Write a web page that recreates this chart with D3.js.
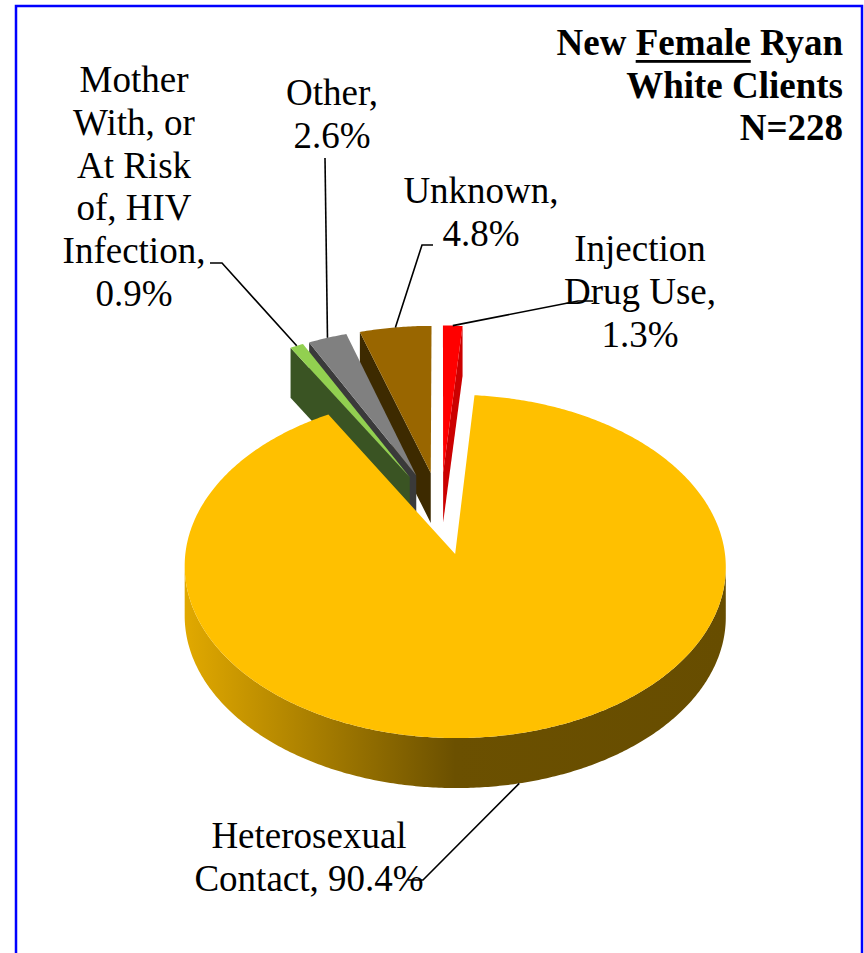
<html lang='en'>
  <head>
    <meta charset='UTF-8' />
    <script src='https://d3js.org/d3.v7.min.js'></script>
    <style>
      body { margin: 0; background: #ffffff; }
      .label {
        font-family: 'Liberation Serif', 'Times New Roman', serif;
        font-size: 37px;
        fill: black;
        text-anchor: middle;
      }
      .title {
        font-family: 'Liberation Serif', 'Times New Roman', serif;
        font-size: 37px;
        font-weight: bold;
        fill: black;
        text-anchor: end;
      }
      .leader { fill: none; stroke: black; stroke-width: 1.6; }
    </style>
    <title>New Female Ryan White Clients</title>
  </head>
  <body>
  <div id='chart'></div>
  <script>

  //data, in pie order clockwise from 12 o'clock
  const categories = [
    "Injection Drug Use",
    "Heterosexual Contact",
    "Mother With, or At Risk of, HIV Infection",
    "Other",
    "Unknown",
  ];
  const percents = [1.3, 90.4, 0.9, 2.6, 4.8];
  const titleLines = ["New Female Ryan", "White Clients", "N=228"];
  const underlinedWord = "Female";

  //colours
  const topColors = ["#FF0000", "#FFC000", "#92D050", "#808080", "#996600"];
  const wallColors = ["#CC0000", "#6B5000", "#3A5423", "#3A3A3A", "#3D2A00"];

  //label layout
  const labelX = [640, 309, 134, 332, 481];
  const labelY = [261, 848, 92, 105, 203];
  const wrapWidth = [160, 240, 150, 150, 160];
  const leaderElbow = [[578, 301], [423, 880], [222, 263], [325, 158], [422, 245]];
  const leaderEnd = [[593, 301], [408, 880], [210, 263], [325, 158], [433, 245]];

  //pie geometry
  const width = 864;
  const height = 953;
  const cx = 440.5, cy = 513, R = 265;
  const tilt = 0.625;    // vertical squash of the disc
  const persp = 0.075;   // far side smaller than near side
  const depth = 50;      // thickness of the pie on screen
  const explode = 66;

  const svg = d3.select("#chart")
    .append("svg")
    .attr("width", width)
    .attr("height", height);

  const defs = svg.append("defs");

  //blue frame
  svg.append("rect")
    .attr("x", 16).attr("y", 6)
    .attr("width", 846).attr("height", 1000)
    .attr("fill", "none")
    .attr("stroke", "#0000FF")
    .attr("stroke-width", 2.5);

  function project(u, v, down = 0) {
    const g = 1 + persp * v / R;
    return [cx + u * g, cy + v * tilt * g + down];
  }

  const slices = d3.pie().sort(null).value((d) => d)(percents).map((p, i) => {
    const b = (p.startAngle + p.endAngle) / 2;
    return {
      i,
      a0: p.startAngle,
      a1: p.endAngle,
      b,
      u0: explode * Math.sin(b),
      v0: -explode * Math.cos(b),
    };
  });

  function rim(s, t, down = 0) {
    return project(s.u0 + R * Math.sin(t), s.v0 - R * Math.cos(t), down);
  }

  function arcPoints(s, t0, t1, down = 0) {
    const n = Math.max(2, Math.ceil(Math.abs(t1 - t0) / 0.01));
    return d3.range(n + 1).map((k) => rim(s, t0 + (t1 - t0) * k / n, down));
  }

  const line = d3.line();
  const gPie = svg.append("g");

  //draw far slices first
  slices.slice().sort((a, b) => a.v0 - b.v0).forEach((s) => {
    const g = gPie.append("g");
    const apex = project(s.u0, s.v0);
    const apexLow = project(s.u0, s.v0, depth);

    //radial walls facing the viewer
    if (Math.sin(s.a0) < -1e-6) {
      g.append("path")
        .attr("d", line([apex, rim(s, s.a0), rim(s, s.a0, depth), apexLow]) + "Z")
        .attr("fill", wallColors[s.i]);
    }
    if (Math.sin(s.a1) > 1e-6) {
      g.append("path")
        .attr("d", line([apex, rim(s, s.a1), rim(s, s.a1, depth), apexLow]) + "Z")
        .attr("fill", wallColors[s.i]);
    }

    //outer curved side, between the silhouette points
    const samples = arcPoints(s, s.a0, s.a1);
    const ts = samples.map((_, k) => s.a0 + (s.a1 - s.a0) * k / (samples.length - 1));
    let tR = null, tL = null, xR = -Infinity, xL = Infinity;
    samples.forEach((p, k) => {
      const t = ts[k];
      if (Math.cos(t) > 0.3) return;
      if (p[0] > xR) { xR = p[0]; tR = t; }
      if (p[0] < xL) { xL = p[0]; tL = t; }
    });
    if (tR !== null && tL !== null && tL > tR) {
      const gradId = "side" + s.i;
      const grad = defs.append("linearGradient")
        .attr("id", gradId)
        .attr("gradientUnits", "userSpaceOnUse")
        .attr("x1", xL).attr("x2", xR).attr("y1", 0).attr("y2", 0);
      const c = d3.color(topColors[s.i]);
      grad.append("stop").attr("offset", 0).attr("stop-color", c.darker(0.35));
      grad.append("stop").attr("offset", 0.5).attr("stop-color", wallColors[s.i]);
      grad.append("stop").attr("offset", 1).attr("stop-color", d3.color(wallColors[s.i]).darker(0.1));
      const top = arcPoints(s, tR, tL);
      const bottom = arcPoints(s, tR, tL, depth).reverse();
      g.append("path")
        .attr("d", line(top.concat(bottom)) + "Z")
        .attr("fill", `url(#${gradId})`);
    }

    //top face
    g.append("path")
      .attr("d", line([apex].concat(samples)) + "Z")
      .attr("fill", topColors[s.i]);
  });

  //labels
  const measure = svg.append("text").attr("class", "label").attr("opacity", 0);
  function wrapLines(text, maxWidth) {
    const words = text.split(" ");
    const lines = [];
    let cur = words[0];
    for (let k = 1; k < words.length; k++) {
      const test = cur + " " + words[k];
      measure.text(test);
      if (measure.node().getComputedTextLength() > maxWidth) {
        lines.push(cur);
        cur = words[k];
      } else cur = test;
    }
    lines.push(cur);
    return lines;
  }

  const gLabels = svg.append("g");
  slices.forEach((s) => {
    //leader: from slice edge to label
    const near = Math.cos(s.b) < 0;
    const start = rim(s, s.b, near ? depth : 0);
    gLabels.append("path")
      .attr("class", "leader")
      .attr("d", line([start, leaderElbow[s.i], leaderEnd[s.i]]));

    const text = `${categories[s.i]}, ${percents[s.i].toFixed(1)}%`;
    const lines = wrapLines(text, wrapWidth[s.i]);
    const t = gLabels.append("text")
      .attr("class", "label")
      .attr("x", labelX[s.i])
      .attr("y", labelY[s.i]);
    t.selectAll("tspan")
      .data(lines)
      .join("tspan")
      .attr("x", labelX[s.i])
      .attr("dy", (d, k) => (k === 0 ? 0 : 42.8))
      .text((d) => d);
  });
  measure.remove();

  //title
  const titleX = 843;
  const titleY = [55, 97.5, 140];
  titleLines.forEach((txt, k) => {
    const t = svg.append("text")
      .attr("class", "title")
      .attr("x", titleX)
      .attr("y", titleY[k])
      .text(txt);
    const pos = txt.indexOf(underlinedWord);
    if (pos >= 0) {
      const node = t.node();
      const x0 = node.getStartPositionOfChar(pos).x;
      const x1 = node.getEndPositionOfChar(pos + underlinedWord.length - 1).x;
      svg.append("rect")
        .attr("x", x0)
        .attr("y", titleY[k] + 5)
        .attr("width", x1 - x0)
        .attr("height", 2.8)
        .attr("fill", "black");
    }
  });

  </script>
  </body>
</html>
